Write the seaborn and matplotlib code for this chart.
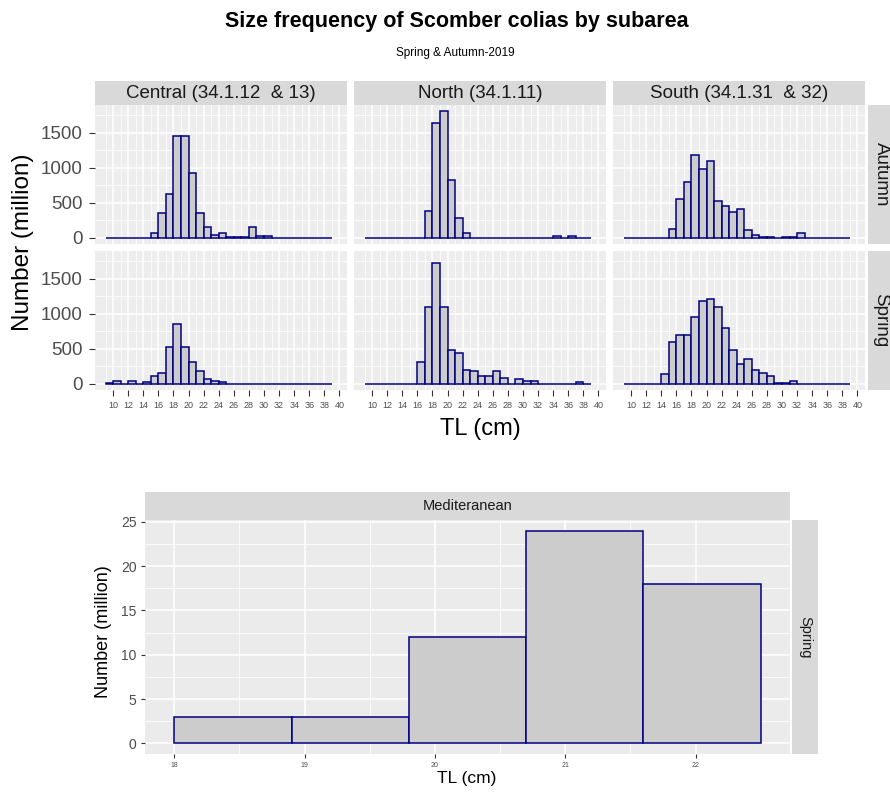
import numpy as np
import matplotlib
matplotlib.use('Agg')
from matplotlib import pyplot as plt
import seaborn as sns

'''Size frequency of Scomber colias by subarea, spring & autumn 2019.'''

# length classes (cm, left edge of 1 cm bins)
TL = [9, 10, 11, 12, 13, 14, 15, 16, 17, 18, 19, 20, 21, 22, 23,
      24, 25, 26, 27, 28, 29, 30, 31, 32, 33, 34, 35, 36, 37, 38]

# numbers (million) per length class
central_autumn = [0, 0, 0, 0, 0, 0, 64, 347, 624, 1460, 1460, 921, 347, 153, 40,
                  64, 5, 12, 12, 153, 20, 20, 0, 0, 0, 0, 0, 0, 0, 0]
north_autumn = [0, 0, 0, 0, 0, 0, 0, 0, 386, 1638, 1807, 832, 277, 64, 0,
                0, 0, 0, 0, 0, 0, 0, 0, 0, 0, 25, 0, 25, 0, 0]
south_autumn = [0, 0, 0, 0, 0, 0, 129, 559, 797, 1178, 990, 1104, 525, 460, 361,
                411, 114, 40, 15, 15, 0, 15, 15, 64, 0, 0, 0, 0, 0, 0]
central_spring = [15, 38, 0, 38, 0, 20, 109, 156, 529, 859, 529, 307, 179, 66, 42,
                  24, 0, 0, 0, 0, 0, 0, 0, 0, 0, 0, 0, 0, 0, 0]
north_spring = [0, 0, 0, 0, 0, 0, 0, 307, 1100, 1723, 1100, 486, 439, 198, 189,
                104, 104, 175, 85, 0, 61, 38, 38, 0, 0, 0, 0, 0, 20, 0]
south_spring = [0, 0, 0, 0, 0, 132, 600, 699, 699, 953, 1189, 1213, 1104, 793, 486,
                283, 354, 198, 151, 104, 15, 15, 38, 0, 0, 0, 0, 0, 0, 0]

areas = ['Central (34.1.12  & 13)', 'North (34.1.11)', 'South (34.1.31  & 32)']
seasons = ['Autumn', 'Spring']
top_data = {('Autumn', 0): central_autumn, ('Autumn', 1): north_autumn,
            ('Autumn', 2): south_autumn, ('Spring', 0): central_spring,
            ('Spring', 1): north_spring, ('Spring', 2): south_spring}

med_tl = [18, 19, 20, 21, 22]
med_spring = [3, 3, 12, 24, 18]

FILL = '#CCCCCC'
EDGE = '#000080'
STRIP = '#D9D9D9'

sns.set_theme(style='darkgrid')
plt.rcParams['font.family'] = ['Liberation Sans', 'DejaVu Sans']

W, H = 890, 793
fig = plt.figure(figsize=(W / 100, H / 100), dpi=100)
fig.patch.set_facecolor('white')


def box(l, t, r, b):
    return [l / W, 1 - b / H, (r - l) / W, (b - t) / H]


def strip(l, t, r, b, text, size, rot=0):
    sa = fig.add_axes(box(l, t, r, b))
    sa.set_facecolor(STRIP)
    sa.set_xticks([])
    sa.set_yticks([])
    sa.grid(False)
    for s in sa.spines.values():
        s.set_visible(False)
    sa.text(0.5, 0.5, text, ha='center', va='center', fontsize=size,
            color='#1A1A1A', rotation=rot, transform=sa.transAxes)


def style(ax, bg, xmaj, xmin, ymaj, ymin, xlab, ylab, xsize, ysize):
    ax.set_facecolor(bg)
    ax.set_xticks(xmaj)
    ax.set_xticks(xmin, minor=True)
    ax.set_yticks(ymaj)
    ax.set_yticks(ymin, minor=True)
    ax.grid(which='major', color='white', lw=1.1)
    ax.grid(which='minor', color='white', lw=0.55)
    ax.set_axisbelow(True)
    for s in ax.spines.values():
        s.set_visible(False)
    ax.tick_params(which='minor', length=0)
    ax.tick_params(which='major', width=0.8, color='#333333', labelcolor='#4D4D4D')
    ax.tick_params(axis='x', labelsize=xsize, labelbottom=xlab, bottom=xlab,
                   length=4, pad=4)
    ax.tick_params(axis='y', labelsize=ysize, labelleft=ylab, left=ylab,
                   length=4, pad=5)
    ax.set_xlabel('')
    ax.set_ylabel('')


# ---- top: facet grid season x area ----
cols = [(95, 347), (354, 606), (613, 865)]
rows = [(105, 244), (251, 390)]
edges = list(range(9, 40))

for i, season in enumerate(seasons):
    for j, area in enumerate(areas):
        l, r = cols[j]
        t, b = rows[i]
        ax = fig.add_axes(box(l, t, r, b))
        sns.histplot(x=TL, weights=top_data[(season, j)], bins=edges, ax=ax,
                     color=FILL, edgecolor=EDGE, linewidth=1.1, alpha=1)
        ax.set_xlim(7.6, 41)
        ax.set_ylim(-90, 1900)
        style(ax, '#EDEDED', range(10, 41, 2), range(9, 42, 2),
              [0, 500, 1000, 1500], [250, 750, 1250, 1750],
              i == 1, j == 0, 6.5, 13.5)

for j, area in enumerate(areas):
    l, r = cols[j]
    strip(l, 81, r, 105, area, 13.5)
for i, season in enumerate(seasons):
    t, b = rows[i]
    strip(868, t, 894, b, season, 13.5, rot=270)

fig.text(457 / W, 1 - 21 / H, 'Size frequency of Scomber colias by subarea',
         ha='center', va='center', fontsize=15.5, fontweight='bold', color='black')
fig.text(455 / W, 1 - 53 / H, 'Spring & Autumn-2019', ha='center', va='center',
         fontsize=8.5, color='black')
fig.text(23 / W, 1 - 242 / H, 'Number (million)', ha='center', va='center',
         rotation=90, fontsize=17.5, color='black')
fig.text(480 / W, 1 - 429 / H, 'TL (cm)', ha='center', va='center',
         fontsize=17, color='black')

# ---- bottom: Mediterranean ----
med_edges = [18, 18.9, 19.8, 20.7, 21.6, 22.5]
bx = fig.add_axes(box(145, 520, 790, 754))
sns.histplot(x=med_tl, weights=med_spring, bins=med_edges, ax=bx,
             color=FILL, edgecolor=EDGE, linewidth=1.1, alpha=1)
bx.set_xlim(17.775, 22.725)
bx.set_ylim(-1.2, 25.2)
style(bx, '#EBEBEB', [18, 19, 20, 21, 22], [18.5, 19.5, 20.5, 21.5],
      [0, 5, 10, 15, 20, 25], [2.5, 7.5, 12.5, 17.5, 22.5], True, True, 5, 10)
bx.tick_params(axis='x', length=3, pad=3)
bx.tick_params(axis='y', length=3, pad=3)
strip(145, 492, 790, 520, 'Mediteranean', 10.5)
strip(792, 520, 818, 754, 'Spring', 10.5, rot=270)
fig.text(103 / W, 1 - 632 / H, 'Number (million)', ha='center', va='center',
         rotation=90, fontsize=13, color='black')
fig.text(467 / W, 1 - 778 / H, 'TL (cm)', ha='center', va='center',
         fontsize=12.5, color='black')

plt.savefig('out.png', dpi=100)
